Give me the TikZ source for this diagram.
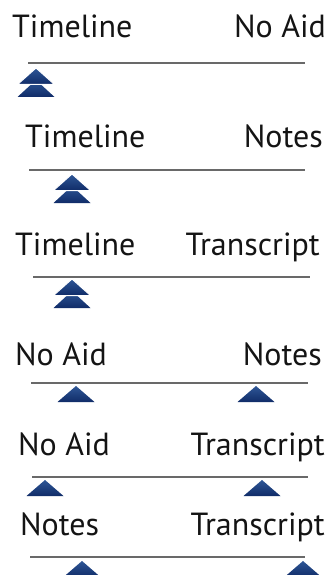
\documentclass[tikz,border=0pt]{standalone}
\usepackage{fontspec}
\setmainfont{PT Sans}
\usepackage{xcolor}
\usetikzlibrary{positioning}
\definecolor{navytop}{RGB}{46,86,150}
\definecolor{navybot}{RGB}{16,44,104}
\definecolor{rulegray}{RGB}{105,105,105}

\begin{document}
\begin{tikzpicture}[x=1pt,y=-1pt,
  every node/.style={font=\fontsize{32}{35}\selectfont,inner sep=0pt,text=black!92},
  lbl/.style={anchor=base west},
  rbl/.style={anchor=base east},
  rule/.style={draw=rulegray,line width=1.6pt},
  tri/.pic={\shade[top color=navytop,bottom color=navybot] (0,0)--(-18.5,16)--(18.5,16)--cycle;},
  dbltri/.pic={\shade[top color=navytop,bottom color=navybot] (0,12)--(-18.5,29)--(18.5,29)--cycle;
    \shade[top color=navytop,bottom color=navybot,draw=white,line width=1pt] (0,0)--(-18.5,16.5)--(18.5,16.5)--cycle;}]
\useasboundingbox (0,0) rectangle (333,575);
% Timeline vs No Aid
\node[lbl] (tl1) at (12,38) {Timeline};
\node[rbl] (na1) at (326,38) {No Aid};
\coordinate (r1a) at (28,63);\coordinate (r1b) at (305,63);
\draw[rule] (r1a)--(r1b);
\pic at (36,68) {dbltri};
% Timeline vs Notes
\node[lbl] (tl2) at (25,147) {Timeline};
\node[rbl] (nt2) at (323,147) {Notes};
\coordinate (r2a) at (29,170);\coordinate (r2b) at (305,170);
\draw[rule] (r2a)--(r2b);
\pic at (72,174) {dbltri};
% Timeline vs Transcript
\node[lbl] (tl3) at (15,255) {Timeline};
\node[rbl] (tr3) at (320,255) {Transcript};
\coordinate (r3a) at (33,277);\coordinate (r3b) at (310,277);
\draw[rule] (r3a)--(r3b);
\pic at (72,279) {dbltri};
% No Aid vs Notes
\node[lbl] (na4) at (15,365) {No Aid};
\node[rbl] (nt4) at (322,365) {Notes};
\coordinate (r4a) at (31,383);\coordinate (r4b) at (308,383);
\draw[rule] (r4a)--(r4b);
\pic at (76,386) {tri};\pic at (256,386) {tri};
% No Aid vs Transcript
\node[lbl] (na5) at (18,455) {No Aid};
\node[rbl] (tr5) at (325,455) {Transcript};
\coordinate (r5a) at (32,477);\coordinate (r5b) at (308,477);
\draw[rule] (r5a)--(r5b);
\pic at (45,480) {tri};\pic at (262,480) {tri};
% Notes vs Transcript
\node[lbl] (nt6) at (20,535) {Notes};
\node[rbl] (tr6) at (325,535) {Transcript};
\coordinate (r6a) at (30,557);\coordinate (r6b) at (305,557);
\draw[rule] (r6a)--(r6b);
\pic at (82,561) {tri};\pic at (303,561) {tri};
\end{tikzpicture}
\end{document}
